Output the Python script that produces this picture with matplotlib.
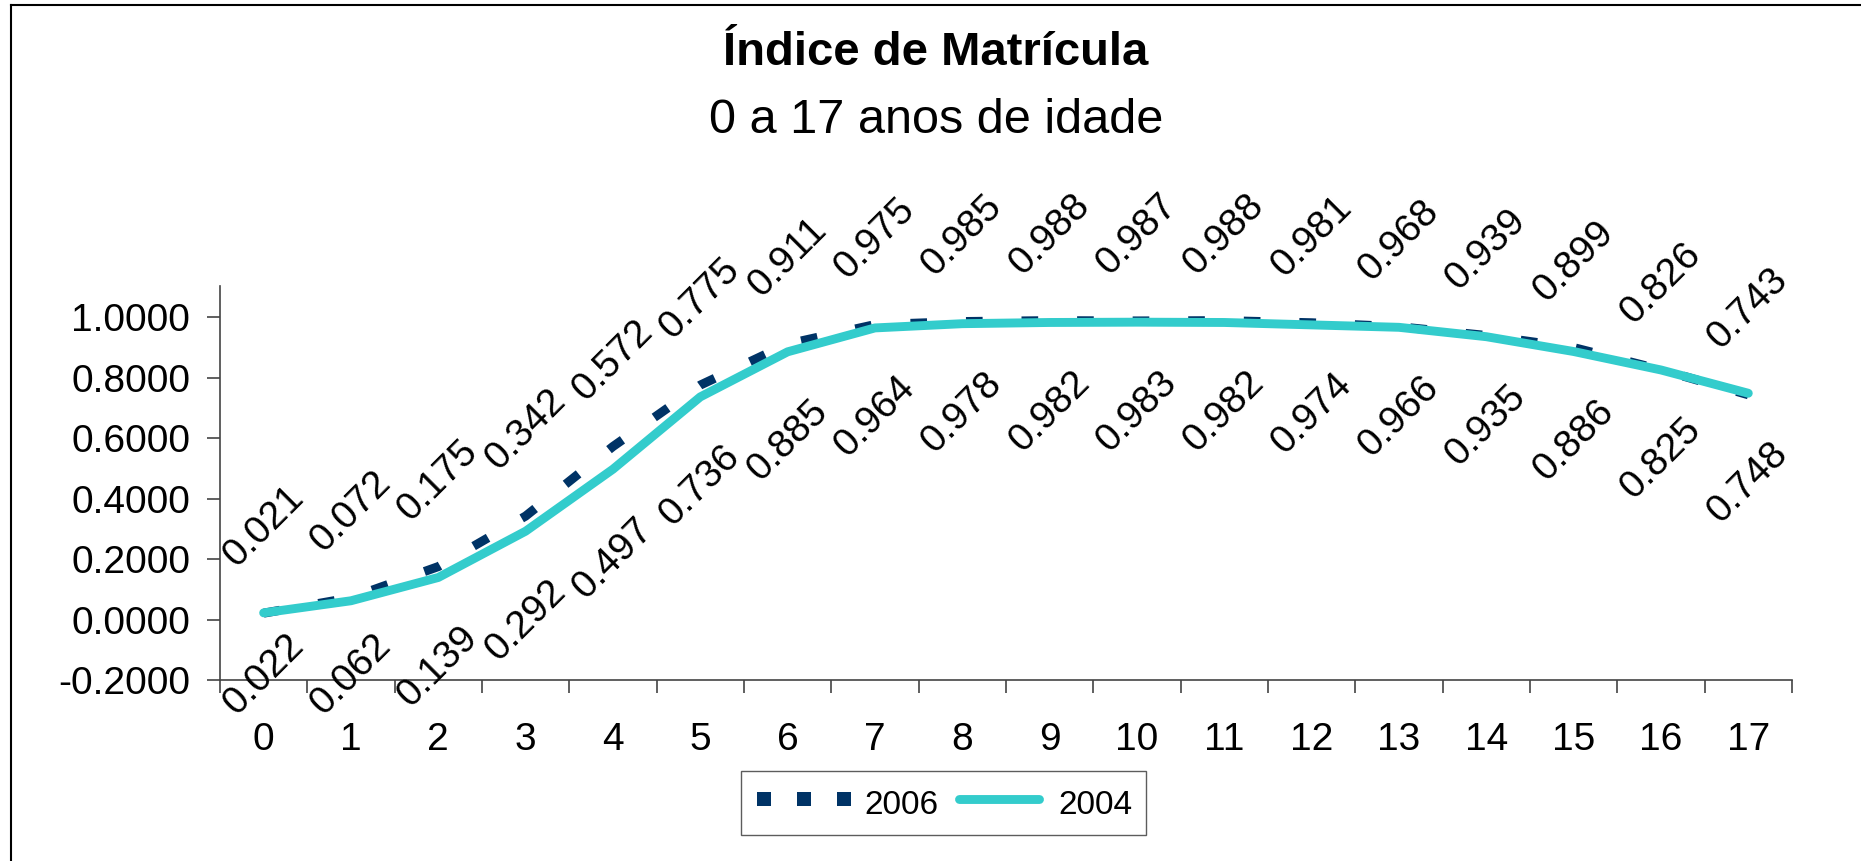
import matplotlib
matplotlib.use("Agg")
import matplotlib.pyplot as plt
from matplotlib.lines import Line2D

plt.rcParams['font.family'] = ['Liberation Sans', 'DejaVu Sans']
plt.rcParams['lines.scale_dashes'] = False  # traços em pontos, sem escala pela espessura

# dados
idades = [str(i) for i in range(18)]
indice_2006 = [0.021, 0.072, 0.175, 0.342, 0.572, 0.775, 0.911, 0.975, 0.985,
               0.988, 0.987, 0.988, 0.981, 0.968, 0.939, 0.899, 0.826, 0.743]
indice_2004 = [0.022, 0.062, 0.139, 0.292, 0.497, 0.736, 0.885, 0.964, 0.978,
               0.982, 0.983, 0.982, 0.974, 0.966, 0.935, 0.886, 0.825, 0.748]
y_ticks = [-0.2, 0.0, 0.2, 0.4, 0.6, 0.8, 1.0]
y_tick_labels = ['-0.2000', '0.0000', '0.2000', '0.4000', '0.6000', '0.8000', '1.0000']

cor_2006 = '#003366'
cor_2004 = '#33CCCC'
fs = 28

fig = plt.figure(figsize=(18.61, 8.61), dpi=100)
ax = fig.add_axes([0.1182, 0.2102, 0.8447, 0.4576])

x = list(range(len(idades)))
ax.plot(x, indice_2006, color=cor_2006, lw=6.5, dashes=(12, 28),
        dash_capstyle='butt', zorder=2)
ax.plot(x, indice_2004, color=cor_2004, lw=6.4, solid_capstyle='round',
        solid_joinstyle='round', zorder=3)

# rótulos de dados inclinados, acima (2006) e abaixo (2004);
# os de baixo não descem além da base da área de plotagem (como no Excel)
desl_cima = 0.285
desl_baixo = 0.294
piso = -0.18
for xi, v in zip(x, indice_2006):
    ax.text(xi, v + desl_cima, f'{v:.3f}', ha='center', va='center',
            rotation=45, fontsize=fs, clip_on=False)
for xi, v in zip(x, indice_2004):
    ax.text(xi, max(v - desl_baixo, piso), f'{v:.3f}', ha='center', va='center',
            rotation=45, fontsize=fs, clip_on=False)

ax.set_xlim(-0.5, 17.5)
ax.set_ylim(-0.2, 1.1025)

ax.set_yticks(y_ticks)
ax.set_yticklabels(y_tick_labels)
ax.set_xticks(x)
ax.set_xticklabels(idades)
ax.set_xticks([i - 0.5 for i in range(len(idades) + 1)], minor=True)
ax.tick_params(axis='y', direction='out', length=9.4, width=1.2, color='#444444',
               labelsize=fs, pad=12)
ax.tick_params(axis='x', which='major', length=0, labelsize=fs, pad=30)
ax.tick_params(axis='x', which='minor', direction='out', length=9.4, width=1.2,
               color='#444444')

for s in ['top', 'right']:
    ax.spines[s].set_visible(False)
for s in ['left', 'bottom']:
    ax.spines[s].set_color('#444444')
    ax.spines[s].set_linewidth(1.2)

# títulos
fig.text(0.503, 0.9245, 'Índice de Matrícula', ha='center', va='baseline',
         fontsize=34, fontweight='bold')
fig.text(0.503, 0.8455, '0 a 17 anos de idade', ha='center', va='baseline',
         fontsize=35)

# legenda: a série tracejada aparece como três quadrados
h2006 = Line2D([], [], color=cor_2006, linestyle='none', marker='s',
               markersize=9.4, markeredgewidth=0)
h2004 = Line2D([], [], color=cor_2004, lw=6.4, solid_capstyle='round')
leg = fig.legend([h2006, h2004], ['2006', '2004'], loc='center',
                 bbox_to_anchor=(0.507, 0.0674), ncol=2, fontsize=24,
                 numpoints=3, frameon=True, fancybox=False, handlelength=3.0,
                 handleheight=1.35, handletextpad=0.3, columnspacing=0.3,
                 borderpad=0.4)
leg.get_frame().set_edgecolor('#333333')
leg.get_frame().set_linewidth(1.0)

# borda externa do gráfico (só esquerda e topo aparecem)
fig.add_artist(Line2D([11 / 1861, 11 / 1861], [0, 1 - 5 / 861], color='black',
                      lw=1.5, transform=fig.transFigure))
fig.add_artist(Line2D([11 / 1861, 1], [1 - 5 / 861, 1 - 5 / 861], color='black',
                      lw=1.5, transform=fig.transFigure))

fig.savefig('out.png', dpi=100)
